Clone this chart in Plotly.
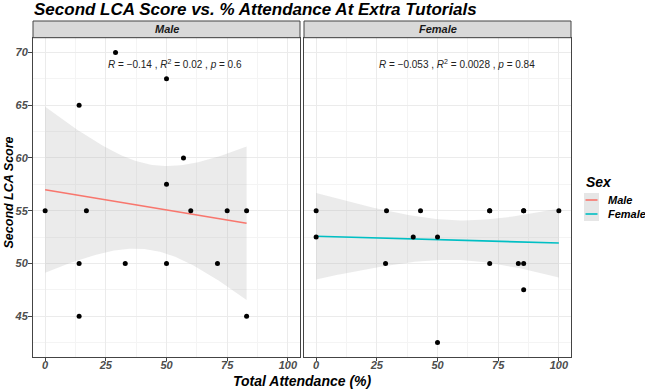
import numpy as np
import plotly.graph_objects as go

# ---- data ----
male_attendance = [29, 14, 50, 57, 50, 0, 17, 60, 75, 83, 14, 33, 50, 71, 14, 83]
male_score = [70, 65, 67.5, 60, 57.5, 55, 55, 55, 55, 55, 50, 50, 50, 50, 45, 45]

female_attendance = [0, 29, 43, 71.5, 85.5, 100, 0, 40, 50, 28.6, 71.5, 83.3, 85.5, 85.5, 50, 85.5, 71.5]
female_score = [55, 55, 55, 55, 55, 55, 52.5, 52.5, 52.5, 50, 50, 50, 50, 47.5, 42.5, 55, 55]

panels = ["Male", "Female"]
line_colors = {"Male": "#F8766D", "Female": "#00BFC4"}
stat_labels = {
    "Male": "<i>R</i> = \u22120.14 , <i>R</i><sup>2</sup> = 0.02 , <i>p</i> = 0.6",
    "Female": "<i>R</i> = \u22120.053 , <i>R</i><sup>2</sup> = 0.0028 , <i>p</i> = 0.84",
}
x_ticks = [0, 25, 50, 75, 100]
y_ticks = [45, 50, 55, 60, 65, 70]

T975 = {13: 2.1604, 14: 2.1448, 15: 2.1314, 16: 2.1199}


def fit_band(x, y, n_pts=80):
    x = np.asarray(x, float)
    y = np.asarray(y, float)
    n = len(x)
    b, a = np.polyfit(x, y, 1)
    xs = np.linspace(x.min(), x.max(), n_pts)
    yhat = a + b * xs
    resid = y - (a + b * x)
    s = np.sqrt((resid ** 2).sum() / (n - 2))
    sxx = ((x - x.mean()) ** 2).sum()
    se = s * np.sqrt(1.0 / n + (xs - x.mean()) ** 2 / sxx)
    t = T975[n - 2]
    return xs, yhat, yhat - t * se, yhat + t * se


data = {
    "Male": (male_attendance, male_score),
    "Female": (female_attendance, female_score),
}

fig = go.Figure()
for i, sex in enumerate(panels):
    xa = "x" if i == 0 else "x2"
    ya = "y" if i == 0 else "y2"
    x, y = data[sex]
    xs, yhat, lo, hi = fit_band(x, y)
    fig.add_trace(go.Scatter(
        x=np.concatenate([xs, xs[::-1]]), y=np.concatenate([hi, lo[::-1]]),
        fill="toself", fillcolor="rgba(170,170,170,0.24)", line=dict(width=0),
        mode="lines", hoverinfo="skip", xaxis=xa, yaxis=ya, showlegend=False))
    fig.add_trace(go.Scatter(
        x=xs, y=yhat, mode="lines", line=dict(color=line_colors[sex], width=1.6),
        xaxis=xa, yaxis=ya, showlegend=False))
    fig.add_trace(go.Scatter(
        x=x, y=y, mode="markers", marker=dict(color="black", size=5),
        xaxis=xa, yaxis=ya, showlegend=False))

FONT = "Liberation Sans"
tickfont = dict(family=FONT, size=11, color="#4D4D4D", weight="bold", style="italic")
common_x = dict(range=[-5, 105], tickvals=x_ticks, showgrid=True, gridcolor="#EBEBEB", gridwidth=1,
                minor=dict(dtick=12.5, tick0=0, showgrid=True, gridcolor="#F4F4F4", gridwidth=0.6),
                showline=True, mirror=True, linecolor="#444444", linewidth=1,
                ticks="outside", ticklen=3, tickcolor="#444444", tickfont=tickfont, zeroline=False,
                ticklabelstandoff=-5)
common_y = dict(range=[41.125, 71.375], tickvals=y_ticks, showgrid=True, gridcolor="#EBEBEB", gridwidth=1,
                minor=dict(dtick=2.5, tick0=0, showgrid=True, gridcolor="#F4F4F4", gridwidth=0.6),
                showline=True, mirror=True, linecolor="#444444", linewidth=1,
                tickfont=tickfont, zeroline=False, domain=[0, 1])

L, R, T, B = 33, 74, 38, 33
W, H = 645, 390
PW, PH = W - L - R, H - T - B
gap = 4
half = (PW - gap) / 2

fig.update_layout(
    width=W, height=H, margin=dict(l=L, r=R, t=T, b=B),
    paper_bgcolor="white", plot_bgcolor="white", showlegend=False,
    font=dict(family=FONT),
    xaxis=dict(common_x, domain=[0, half / PW], anchor="y"),
    xaxis2=dict(common_x, domain=[(half + gap) / PW, 1], anchor="y2"),
    yaxis=dict(common_y, anchor="x", ticks="outside", ticklen=4, tickcolor="#444444",
               ticklabelstandoff=-2),
    yaxis2=dict(common_y, anchor="x2", matches="y", showticklabels=False, ticks=""),
    title=dict(text="Second LCA Score vs. % Attendance At Extra Tutorials",
               font=dict(family=FONT, size=17, color="black", weight="bold", style="italic"),
               x=34 / W, xanchor="left", xref="container",
               y=(H - 9) / H, yanchor="middle", yref="container"),
)


def px_x(p):
    return (p - L) / PW


def px_y(p):
    return (H - B - p) / PH


shapes = []
annotations = []
strip_top, strip_bot = 21, 37.7
for i, sex in enumerate(panels):
    xd = "x domain" if i == 0 else "x2 domain"
    shapes.append(dict(type="rect", xref=xd, yref="paper", x0=0, x1=1,
                       y0=px_y(strip_bot), y1=px_y(strip_top),
                       fillcolor="#D9D9D9", line=dict(color="#444444", width=1), layer="above"))
    annotations.append(dict(text=sex, xref=xd, yref="paper", x=0.5, y=px_y((strip_top + strip_bot) / 2),
                            showarrow=False, xanchor="center", yanchor="middle",
                            font=dict(family=FONT, size=11, color="#1A1A1A", weight="bold", style="italic")))
    annotations.append(dict(text=stat_labels[sex], xref="x" if i == 0 else "x2", yref="y",
                            x=25, y=68.9, showarrow=False, xanchor="left", yanchor="middle",
                            font=dict(family=FONT, size=10, color="#222222")))

# axis titles
annotations.append(dict(text="Total Attendance (%)", xref="paper", yref="paper",
                        x=px_x(302), y=px_y(380.5), showarrow=False, xanchor="center", yanchor="middle",
                        font=dict(family=FONT, size=14, color="black", weight="bold", style="italic")))
annotations.append(dict(text="Second LCA Score", xref="paper", yref="paper", textangle=-90,
                        x=px_x(8.5), y=px_y(193), showarrow=False, xanchor="center", yanchor="middle",
                        font=dict(family=FONT, size=12.5, color="black", weight="bold", style="italic")))

# legend (drawn by hand to match ggplot key style)
annotations.append(dict(text="Sex", xref="paper", yref="paper", x=px_x(584), y=px_y(182),
                        showarrow=False, xanchor="left", yanchor="middle",
                        font=dict(family=FONT, size=14, color="black", weight="bold", style="italic")))
key_y = {"Male": 200, "Female": 214}
for sex in panels:
    cy = key_y[sex]
    shapes.append(dict(type="rect", xref="paper", yref="paper", x0=px_x(584), x1=px_x(599),
                       y0=px_y(cy + 7), y1=px_y(cy - 7), fillcolor="#E6E6E6", line=dict(width=0)))
    shapes.append(dict(type="line", xref="paper", yref="paper", x0=px_x(585.5), x1=px_x(597.5),
                       y0=px_y(cy), y1=px_y(cy), line=dict(color=line_colors[sex], width=1.6)))
    annotations.append(dict(text=sex, xref="paper", yref="paper", x=px_x(606), y=px_y(cy),
                            showarrow=False, xanchor="left", yanchor="middle",
                            font=dict(family=FONT, size=11, color="black", weight="bold", style="italic")))

fig.update_layout(shapes=shapes, annotations=annotations)
fig.write_html("out.html")
